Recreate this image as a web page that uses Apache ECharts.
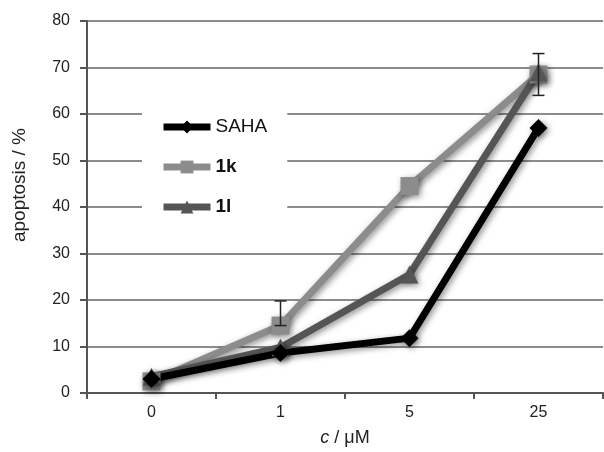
<!DOCTYPE html>
<html><head><meta charset="utf-8">
<script src="https://cdn.jsdelivr.net/npm/echarts@6/dist/echarts.min.js"></script>
<style>html,body{margin:0;padding:0;background:#fff}#c{width:604px;height:452px}</style>
</head><body><div id="c"></div>
<script>
const categories = ['0', '1', '5', '25'];
const saha = [3, 8.6, 11.8, 57];
const k1 = [2.5, 14.5, 44.5, 68.5];
const l1 = [3.5, 9.8, 25.5, 69];
// error bars for 1k: [category index, low, high]
const k1Err = [[1, 14.5, 19.8], [3, 64, 73]];
const yTicks = [0, 10, 20, 30, 40, 50, 60, 70, 80];

const chart = echarts.init(document.getElementById('c'));
const shadow = {shadowBlur: 6, shadowColor: 'rgba(0,0,0,0.45)', shadowOffsetX: 2, shadowOffsetY: 2};
function lineSeries(name, data, color, symbol, size) {
  return {
    name, type: 'line', data, symbol, symbolSize: size,
    lineStyle: {color, width: 7, ...shadow},
    itemStyle: {color, ...shadow},
    z: 3
  };
}
const FONT = 'Liberation Sans';
chart.setOption({
  animation: false,
  grid: {left: 87, right: 1, top: 21, bottom: 51},
  xAxis: {
    type: 'category', data: categories, boundaryGap: true,
    axisLine: {lineStyle: {color: '#555', width: 2}},
    axisTick: {show: true, length: 6, lineStyle: {color: '#555', width: 2}},
    axisLabel: {color: '#222', fontSize: 16, fontFamily: FONT, margin: 12},
    name: '{i|c} / μM', nameLocation: 'middle', nameGap: 36,
    nameTextStyle: {fontSize: 18, color: '#222', fontFamily: FONT,
      rich: {i: {fontStyle: 'italic', fontSize: 18, color: '#222', fontFamily: FONT}}}
  },
  yAxis: {
    type: 'value', min: 0, max: 80, interval: 10,
    axisLine: {show: true, lineStyle: {color: '#555', width: 2}},
    axisTick: {show: true, length: 7, lineStyle: {color: '#555', width: 2}},
    axisLabel: {color: '#222', fontSize: 16, fontFamily: FONT, margin: 17,
      formatter: v => yTicks.includes(v) ? String(v) : ''},
    splitLine: {lineStyle: {color: '#666', width: 1.5}}
  },
  graphic: [{
    type: 'text', left: 10, top: 128, rotation: Math.PI / 2,
    style: {text: 'apoptosis / %', fontSize: 19, fill: '#222', fontFamily: FONT}
  }],
  legend: {
    orient: 'vertical', left: 142, top: 100, itemGap: 20, itemWidth: 47, itemHeight: 16,
    backgroundColor: '#fff', padding: [17, 20, 13, 18],
    lineStyle: {width: 7},
    textStyle: {fontSize: 19, lineHeight: 20, color: '#111', fontFamily: FONT,
      rich: {b: {fontWeight: 'bold', fontSize: 19, lineHeight: 20, color: '#111', fontFamily: FONT}}},
    formatter: n => n === 'SAHA' ? n : '{b|' + n + '}',
    data: ['SAHA', '1k', '1l']
  },
  series: [
    lineSeries('1k', k1, '#8c8c8c', 'rect', 18),
    lineSeries('1l', l1, '#555555', 'triangle', 18),
    lineSeries('SAHA', saha, '#000000', 'diamond', 18),
    {
      type: 'custom', data: k1Err, z: 5, silent: true,
      renderItem: (params, api) => {
        const x = api.value(0);
        const lo = api.coord([x, api.value(1)]);
        const hi = api.coord([x, api.value(2)]);
        const w = 6;
        const st = {stroke: '#222', lineWidth: 1.5};
        return {type: 'group', children: [
          {type: 'line', shape: {x1: lo[0], y1: lo[1], x2: hi[0], y2: hi[1]}, style: st},
          {type: 'line', shape: {x1: hi[0] - w, y1: hi[1], x2: hi[0] + w, y2: hi[1]}, style: st},
          {type: 'line', shape: {x1: lo[0] - w, y1: lo[1], x2: lo[0] + w, y2: lo[1]}, style: st}
        ]};
      }
    }
  ]
});
</script></body></html>
